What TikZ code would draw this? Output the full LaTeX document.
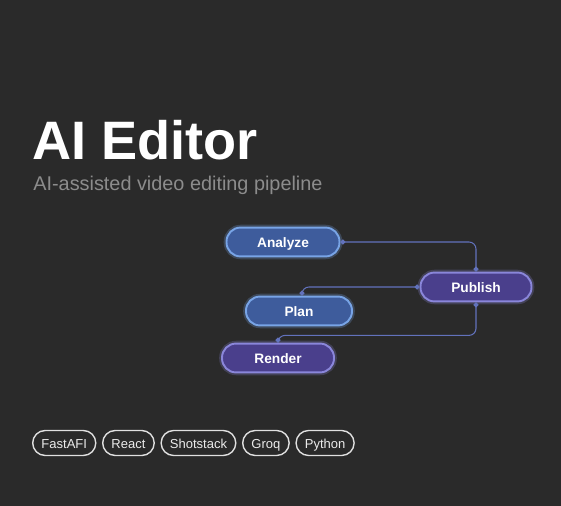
\documentclass[tikz,border=0pt]{standalone}
\usepackage{fontspec}
\setmainfont{Liberation Sans}
\usetikzlibrary{arrows.meta, positioning}

\definecolor{bgdark}{HTML}{2A2A2A}
\definecolor{subgray}{HTML}{8C8C8C}
\definecolor{blueF}{HTML}{3E5C9C}
\definecolor{blueD}{HTML}{78A4E6}
\definecolor{violetF}{HTML}{4A3F8C}
\definecolor{violetD}{HTML}{8A86DA}
\definecolor{linkc}{HTML}{6272BC}

\begin{document}
\begin{tikzpicture}[x=0.02cm, y=-0.02cm,
    stp/.style={rectangle, rounded corners=0.28cm, line width=1.1pt, text=white,
                font=\fontsize{7.8}{9}\selectfont\bfseries, minimum height=0.57cm,
                text height=1.5ex, text depth=0.35ex,
                preaction={draw=#1, line width=3.2pt, draw opacity=0.25}},
    tag/.style={rectangle, rounded corners=0.25cm, draw=white!88!black, line width=0.8pt,
                text=white!92!black, font=\fontsize{7.4}{8}\selectfont, minimum height=0.5cm,
                text height=1.5ex, text depth=0.35ex, inner xsep=5pt, inner ysep=0pt},
    lnk/.style={{Circle[length=2.8pt]}-{Circle[length=2.8pt]}, line width=0.6pt,
                color=linkc, rounded corners=0.14cm},
]

% Background
\fill[bgdark] (0,0) rectangle (561,506);
\useasboundingbox (0,0) rectangle (561,506);

% Title
\node[anchor=base west, inner sep=0, text=white, font=\fontsize{30.8}{34}\selectfont\bfseries] (title) at (32,160) {AI Editor};
\node[anchor=base west, inner sep=0, text=subgray, font=\fontsize{11.3}{13}\selectfont] (sub) at (33,191) {AI-assisted video editing pipeline};

% Pipeline steps
\node[stp=blueD,   fill=blueF,   draw=blueD,   minimum width=2.26cm] (an)  at (283,242) {Analyze};
\node[stp=violetD, fill=violetF, draw=violetD, minimum width=2.22cm] (pub) at (476,287) {Publish};
\node[stp=blueD,   fill=blueF,   draw=blueD,   minimum width=2.12cm] (pl)  at (299,311) {Plan};
\node[stp=violetD, fill=violetF, draw=violetD, minimum width=2.24cm] (ren) at (278,358) {Render};

% Links
\draw[lnk] (an.east) -| (pub.north);
\draw[lnk] (pub.west) -| ([xshift=0.06cm]pl.north);
\draw[lnk] (pub.south) -- ++(0,33) -| (ren.north);

% Tech tags
\node[tag, anchor=west] (fa) at (32,443) {FastAFI};
\node[tag, right=0.11cm of fa] (re) {React};
\node[tag, right=0.11cm of re] (ss) {Shotstack};
\node[tag, right=0.11cm of ss] (gq) {Groq};
\node[tag, right=0.11cm of gq] (py) {Python};
\end{tikzpicture}
\end{document}
